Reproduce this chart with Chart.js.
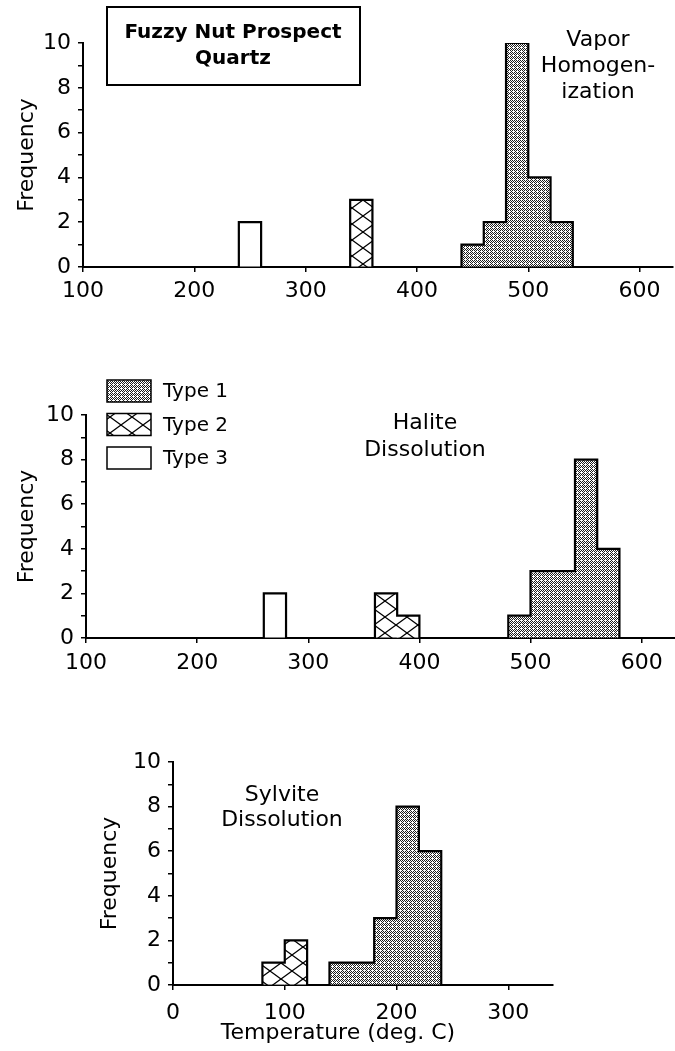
<!DOCTYPE html>
<html>
<head>
<meta charset="utf-8">
<title>Fuzzy Nut Prospect – Quartz fluid inclusions</title>
<script src="https://cdn.jsdelivr.net/npm/chart.js@4.4.1/dist/chart.umd.min.js"></script>
<style>
  html, body { margin: 0; padding: 0; background: #fff; }
  body { width: 675px; height: 1051px; position: relative; overflow: hidden; }
  canvas { position: absolute; }
</style>
</head>
<body>
<canvas id="vapor" width="675" height="305" style="left:0;top:0;width:675px;height:305px"></canvas>
<canvas id="halite" width="675" height="370" style="left:0;top:305px;width:675px;height:370px"></canvas>
<canvas id="sylvite" width="592" height="376" style="left:83px;top:675px;width:592px;height:376px"></canvas>
<script>
// ---- Histogram data: bin lower edges (deg. C) and inclusion counts ----
const BIN_WIDTH = 20;
const typeLabels = ['Type 1', 'Type 2', 'Type 3'];

// Vapor homogenization
const vaporType1Bins = [440, 460, 480, 500, 520];
const vaporType1Freq = [1, 2, 10, 4, 2];
const vaporType2Bins = [340];
const vaporType2Freq = [3];
const vaporType3Bins = [240];
const vaporType3Freq = [2];

// Halite dissolution
const haliteType1Bins = [480, 500, 520, 540, 560];
const haliteType1Freq = [1, 3, 3, 8, 4];
const haliteType2Bins = [360, 380];
const haliteType2Freq = [2, 1];
const haliteType3Bins = [260];
const haliteType3Freq = [2];

// Sylvite dissolution
const sylviteType1Bins = [140, 160, 180, 200, 220];
const sylviteType1Freq = [1, 1, 3, 8, 6];
const sylviteType2Bins = [80, 100];
const sylviteType2Freq = [1, 2];

// Tick labels
const freqTickLabels = [0, 2, 4, 6, 8, 10];
const upperTempTickLabels = [100, 200, 300, 400, 500, 600];
const lowerTempTickLabels = [0, 100, 200, 300];

const FONT = '"DejaVu Sans", "Liberation Sans", sans-serif';

// ---- Fill patterns for the three inclusion types ----
function makePatterns(ctx) {
  // Type 1: fine cross-hatched stipple
  const t1 = document.createElement('canvas');
  t1.width = 4; t1.height = 4;
  const c1 = t1.getContext('2d');
  c1.fillStyle = '#ffffff';
  c1.fillRect(0, 0, 4, 4);
  c1.fillStyle = '#1e1e1e';
  [[0, 0], [1, 1], [2, 2], [3, 3], [2, 0], [0, 2], [3, 1]].forEach(([x, y]) => c1.fillRect(x, y, 1, 1));

  // Type 2: open diagonal lattice
  const w = 22, h = 16;
  const t2 = document.createElement('canvas');
  t2.width = w; t2.height = h;
  const c2 = t2.getContext('2d');
  c2.fillStyle = '#ffffff';
  c2.fillRect(0, 0, w, h);
  c2.strokeStyle = '#000';
  c2.lineWidth = 1.3;
  for (const dx of [-w, 0, w]) {
    for (const dy of [-h, 0, h]) {
      c2.beginPath();
      c2.moveTo(dx, dy); c2.lineTo(dx + w, dy + h);
      c2.moveTo(dx + w, dy); c2.lineTo(dx, dy + h);
      c2.stroke();
    }
  }
  return {
    type1: ctx.createPattern(t1, 'repeat'),
    type2: ctx.createPattern(t2, 'repeat'),
    type3: '#ffffff'
  };
}

// Step outline around contiguous histogram bins (null breaks between groups)
function outlinePoints(bins, freq, width) {
  const pts = [];
  let prevEnd = null;
  bins.forEach((start, i) => {
    if (prevEnd !== start) {
      if (prevEnd !== null) {
        pts.push({ x: prevEnd, y: 0 });
        pts.push({ x: (prevEnd + start) / 2, y: null });
      }
      pts.push({ x: start, y: 0 });
    }
    pts.push({ x: start, y: freq[i] });
    pts.push({ x: start + width, y: freq[i] });
    prevEnd = start + width;
  });
  if (prevEnd !== null) pts.push({ x: prevEnd, y: 0 });
  return pts;
}

// Free text, headings and framed title
const panelText = {
  id: 'panelText',
  afterDraw(chart, args, opts) {
    const ctx = chart.ctx;
    ctx.save();
    ctx.fillStyle = '#000';
    ctx.textAlign = 'center';
    ctx.textBaseline = 'middle';
    (opts.items || []).forEach(it => {
      ctx.font = it.font;
      ctx.fillText(it.text, it.x, it.y);
    });
    if (opts.box) {
      ctx.strokeStyle = '#000';
      ctx.lineWidth = 2;
      ctx.strokeRect(opts.box.x, opts.box.y, opts.box.w, opts.box.h);
    }
    ctx.restore();
  }
};

// Key built from the bar datasets of a chart
const swatchLegend = {
  id: 'swatchLegend',
  afterDraw(chart, args, opts) {
    if (!opts || !opts.display) return;
    const ctx = chart.ctx;
    const bars = chart.data.datasets.filter(d => d.type === 'bar');
    ctx.save();
    ctx.font = opts.font;
    ctx.textAlign = 'left';
    ctx.textBaseline = 'middle';
    bars.forEach((ds, i) => {
      const y = opts.y + i * opts.rowGap;
      ctx.fillStyle = ds.backgroundColor;
      ctx.fillRect(opts.x, y, opts.w, opts.h);
      ctx.strokeStyle = '#000';
      ctx.lineWidth = 1.5;
      ctx.strokeRect(opts.x, y, opts.w, opts.h);
      ctx.fillStyle = '#000';
      ctx.fillText(ds.label, opts.x + opts.w + opts.textGap, y + opts.h / 2 + 1);
    });
    ctx.restore();
  }
};

function histogramChart(canvasId, series, cfg) {
  const ctx = document.getElementById(canvasId).getContext('2d');
  const pats = makePatterns(ctx);
  const fills = [pats.type1, pats.type2, pats.type3];
  const datasets = [];
  series.forEach(s => {
    datasets.push({
      type: 'bar',
      label: typeLabels[s.kind],
      data: s.bins.map((b, i) => ({ x: b + BIN_WIDTH / 2, y: s.freq[i] })),
      backgroundColor: fills[s.kind],
      borderWidth: 0,
      barPercentage: 1,
      categoryPercentage: 1,
      grouped: false,
      order: 2
    });
  });
  series.forEach(s => {
    datasets.push({
      type: 'line',
      label: typeLabels[s.kind] + ' outline',
      data: outlinePoints(s.bins, s.freq, BIN_WIDTH),
      borderColor: '#000',
      borderWidth: 2.2,
      borderJoinStyle: 'miter',
      pointRadius: 0,
      fill: false,
      tension: 0,
      spanGaps: false,
      order: 1
    });
  });

  return new Chart(ctx, {
    type: 'bar',
    data: { datasets },
    options: {
      responsive: false,
      animation: false,
      devicePixelRatio: 1,
      layout: { padding: { top: cfg.top, right: cfg.right, left: 0, bottom: 0 } },
      plugins: {
        legend: { display: false },
        tooltip: { enabled: false },
        panelText: cfg.text,
        swatchLegend: cfg.legend || { display: false }
      },
      scales: {
        x: {
          type: 'linear',
          min: cfg.xMin,
          max: cfg.xMax,
          offset: false,
          border: { display: true, color: '#000', width: 2 },
          grid: { display: true, offset: false, drawOnChartArea: false, drawTicks: true, tickLength: 5, color: '#000', lineWidth: 1.5 },
          ticks: {
            stepSize: 100,
            includeBounds: false,
            autoSkip: false,
            maxRotation: 0,
            color: '#000',
            padding: cfg.xTickPad,
            font: { family: FONT, size: 22 },
            callback: v => (cfg.xTicks.includes(v) ? String(v) : '')
          },
          afterFit: s => { s.height = cfg.xAxisHeight; }
        },
        y: {
          min: 0,
          max: 10,
          border: { display: true, color: '#000', width: 2 },
          grid: { display: true, offset: false, drawOnChartArea: false, drawTicks: true, tickLength: 5, color: '#000', lineWidth: 1.5 },
          ticks: {
            stepSize: 1,
            autoSkip: false,
            color: '#000',
            padding: 7,
            font: { family: FONT, size: 22 },
            callback: v => (freqTickLabels.includes(v) ? String(v) : '')
          },
          title: {
            display: true,
            text: 'Frequency',
            color: '#000',
            font: { family: FONT, size: 22 },
            padding: { top: 14, bottom: 0 }
          },
          afterFit: s => { s.width = cfg.yAxisWidth; }
        }
      }
    },
    plugins: [panelText, swatchLegend]
  });
}

const labelFont = '22px ' + FONT;

histogramChart('vapor', [
  { kind: 0, bins: vaporType1Bins, freq: vaporType1Freq },
  { kind: 1, bins: vaporType2Bins, freq: vaporType2Freq },
  { kind: 2, bins: vaporType3Bins, freq: vaporType3Freq }
], {
  top: 43, right: 2, xMin: 100, xMax: 630, xTicks: upperTempTickLabels,
  xAxisHeight: 38, yAxisWidth: 83, xTickPad: 6,
  text: {
    items: [
      { text: 'Vapor', x: 598, y: 40, font: labelFont },
      { text: 'Homogen-', x: 598, y: 66, font: labelFont },
      { text: 'ization', x: 598, y: 92, font: labelFont },
      { text: 'Fuzzy Nut Prospect', x: 233, y: 33, font: 'bold 20px ' + FONT },
      { text: 'Quartz', x: 233, y: 59, font: 'bold 20px ' + FONT }
    ],
    box: { x: 107, y: 7, w: 253, h: 78 }
  }
});

histogramChart('halite', [
  { kind: 0, bins: haliteType1Bins, freq: haliteType1Freq },
  { kind: 1, bins: haliteType2Bins, freq: haliteType2Freq },
  { kind: 2, bins: haliteType3Bins, freq: haliteType3Freq }
], {
  top: 110, right: 0, xMin: 100, xMax: 630, xTicks: upperTempTickLabels,
  xAxisHeight: 37, yAxisWidth: 86, xTickPad: 7,
  text: {
    items: [
      { text: 'Halite', x: 425, y: 118, font: labelFont },
      { text: 'Dissolution', x: 425, y: 145, font: labelFont }
    ]
  },
  legend: { display: true, x: 107, y: 75, w: 44, h: 22, rowGap: 33.5, textGap: 12, font: '20px ' + FONT }
});

histogramChart('sylvite', [
  { kind: 0, bins: sylviteType1Bins, freq: sylviteType1Freq },
  { kind: 1, bins: sylviteType2Bins, freq: sylviteType2Freq }
], {
  top: 87, right: 122, xMin: 0, xMax: 340, xTicks: lowerTempTickLabels,
  xAxisHeight: 66, yAxisWidth: 90, xTickPad: 10,
  text: {
    items: [
      { text: 'Sylvite', x: 199, y: 120, font: labelFont },
      { text: 'Dissolution', x: 199, y: 145, font: labelFont },
      { text: 'Temperature (deg. C)', x: 255, y: 358, font: labelFont }
    ]
  }
});
</script>
</body>
</html>
